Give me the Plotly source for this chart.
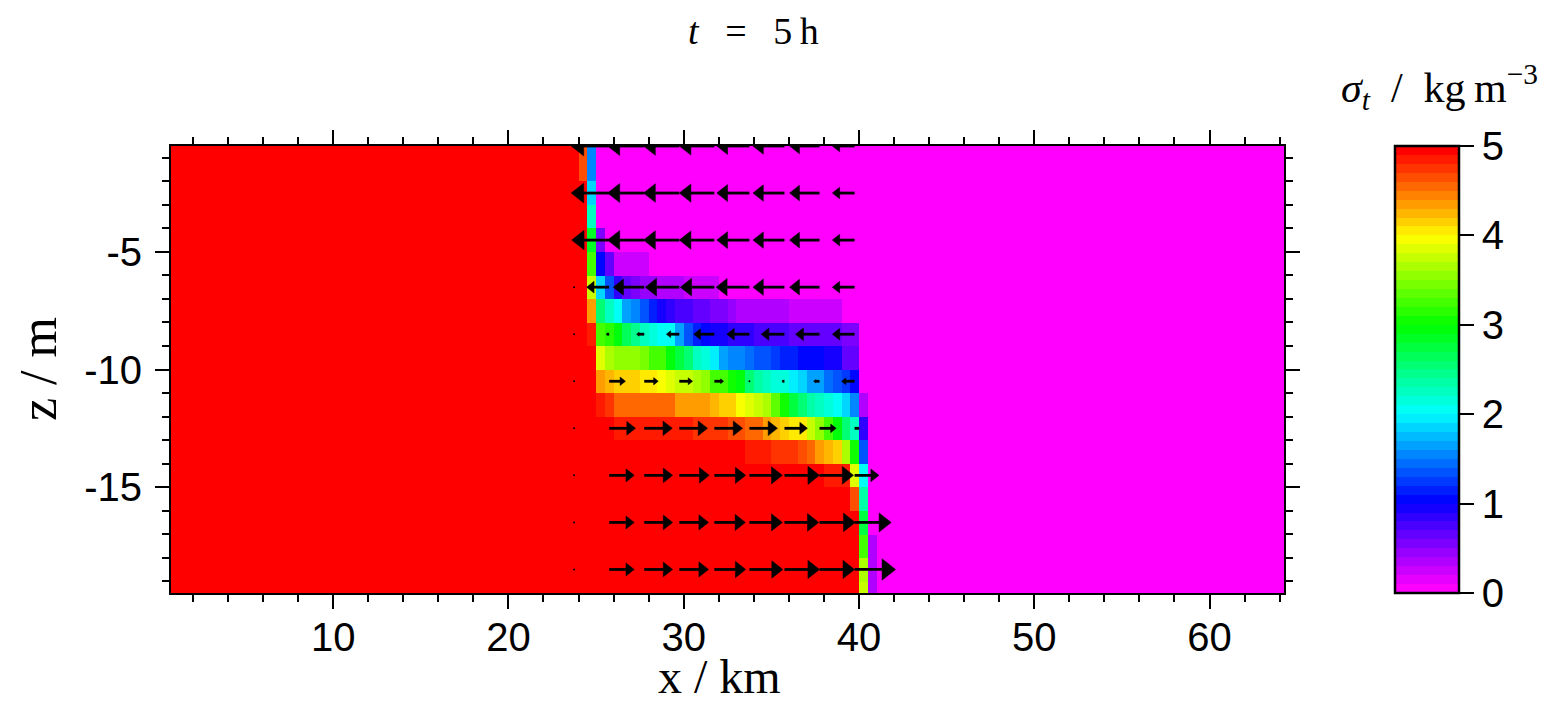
import numpy as np
import plotly.graph_objects as go

# ---------------- grid (cell centres) ----------------
x_km = np.round(np.arange(0.75, 64.251, 0.5), 3)     # 128 columns
z_m = np.array([-0.5 - k for k in range(20)])        # 20 rows: -0.5 ... -19.5

SIGMA_DENSE = 5.0     # dense water on the left
SIGMA_LIGHT = 0.0     # light water on the right
front_x0 = 24.25      # centre of first column of frontal zone

# sigma_t values in the frontal zone, one list per row (top -> bottom),
# starting at x = 24.25 km in 0.5 km steps; beyond the list: light water
sig_r00 = [4.65, 1.5]
sig_r01 = [4.65, 1.55]
sig_r02 = [5, 1.85]
sig_r03 = [5, 2.3]
sig_r04 = [5, 2.85, 0.55]
sig_r05 = [5, 3.2, 1.0, 0.7, 0.25, 0.25, 0.25, 0.25]
sig_r06 = [5, 3.75, 1.82, 1.38, 0.87, 0.69, 0.56, 0.47, 0.4, 0.37, 0.33, 0.3, 0.27, 0.25, 0.22, 0.2]
sig_r07 = [5, 4.3, 2.5, 2.25, 2.0, 1.63, 1.5, 1.3, 1.12, 0.94, 0.84, 0.78, 0.72, 0.65, 0.6, 0.5,
           0.5, 0.44, 0.37, 0.37, 0.3, 0.3, 0.3, 0.3, 0.2, 0.2, 0.2, 0.2, 0.2, 0.2, 0.05, 0.05]
sig_r08 = [5, 4.8, 3.3, 3.1, 2.9, 2.6, 2.4, 2.25, 2.1, 2.05, 2.0, 1.63, 1.3, 1.1, 1.0, 0.94,
           0.94, 0.87, 0.8, 0.8, 0.75, 0.75, 0.75, 0.75, 0.7, 0.69, 0.69, 0.65, 0.62, 0.62, 0.5, 0.5]
sig_r09 = [5, 5, 3.9, 3.6, 3.55, 3.5, 3.5, 3.44, 3.3, 3.2, 2.9, 2.75, 2.5, 2.3, 2.1, 1.9,
           1.7, 1.56, 1.5, 1.45, 1.38, 1.3, 1.25, 1.15, 1.1, 1.05, 1.0, 1.0, 0.98, 0.94, 0.7, 0.7]
sig_r10 = [5, 5, 4.37, 4.2, 4.12, 4.1, 4.1, 4.05, 4.0, 3.95, 3.9, 3.75, 3.7, 3.6, 3.5, 3.3,
           3.2, 3.05, 2.9, 2.5, 2.35, 2.2, 2.15, 2.1, 1.9, 1.8, 1.65, 1.6, 1.44, 1.3, 1.2, 1.0]
sig_r11 = [5, 5, 4.8, 4.7, 4.5, 4.5, 4.5, 4.5, 4.5, 4.5, 4.5, 4.37, 4.37, 4.3, 4.3, 4.2,
           4.1, 4.1, 3.95, 3.85, 3.75, 3.6, 3.4, 3.0, 2.75, 2.5, 2.37, 2.25, 2.1, 2.05, 1.82, 1.56, 0.37]
sig_r12 = [5, 5, 4.95, 4.95, 4.87, 4.87, 4.87, 4.87, 4.87, 4.8, 4.8, 4.8, 4.8, 4.75, 4.75, 4.7,
           4.7, 4.62, 4.62, 4.5, 4.5, 4.3, 4.25, 4.12, 4.0, 4.0, 3.75, 3.56, 3.3, 2.9, 2.5, 2.25, 0.87]
sig_r13 = [5, 5, 5, 5, 5, 5, 5, 5, 5, 5, 5, 5, 5, 5, 5, 5, 5, 5, 5,
           4.85, 4.8, 4.8, 4.75, 4.72, 4.72, 4.62, 4.5, 4.37, 4.28, 4.1, 3.6, 3.0, 1.3]
sig_r14 = [5, 5, 5, 5, 5, 5, 5, 5, 5, 5, 5, 5, 5, 5, 5, 5, 5, 5, 5, 5, 5, 5, 5, 5, 5, 5,
           4.9, 4.9, 4.87, 4.85, 4.8, 3.9, 2.0]
sig_r15 = [5, 5, 5, 5, 5, 5, 5, 5, 5, 5, 5, 5, 5, 5, 5, 5, 5, 5, 5, 5, 5, 5, 5, 5, 5, 5,
           5, 5, 5, 5, 5, 4.62, 2.37]
sig_r16 = [5, 5, 5, 5, 5, 5, 5, 5, 5, 5, 5, 5, 5, 5, 5, 5, 5, 5, 5, 5, 5, 5, 5, 5, 5, 5,
           5, 5, 5, 5, 5, 5, 2.75]
sig_r17 = [5, 5, 5, 5, 5, 5, 5, 5, 5, 5, 5, 5, 5, 5, 5, 5, 5, 5, 5, 5, 5, 5, 5, 5, 5, 5,
           5, 5, 5, 5, 5, 5, 3.25, 0.37]
sig_r18 = [5, 5, 5, 5, 5, 5, 5, 5, 5, 5, 5, 5, 5, 5, 5, 5, 5, 5, 5, 5, 5, 5, 5, 5, 5, 5,
           5, 5, 5, 5, 5, 5, 3.6, 0.37]
sig_r19 = [5, 5, 5, 5, 5, 5, 5, 5, 5, 5, 5, 5, 5, 5, 5, 5, 5, 5, 5, 5, 5, 5, 5, 5, 5, 5,
           5, 5, 5, 5, 5, 5, 3.75, 0.37]
sigma_front_rows = [sig_r00, sig_r01, sig_r02, sig_r03, sig_r04, sig_r05, sig_r06, sig_r07,
                    sig_r08, sig_r09, sig_r10, sig_r11, sig_r12, sig_r13, sig_r14, sig_r15,
                    sig_r16, sig_r17, sig_r18, sig_r19]

# ---------------- velocity arrows (u in cm/s) ----------------
arrow_x = [23.75, 25.75, 27.75, 29.75, 31.75, 33.75, 35.75, 37.75, 39.75]
arrow_z = [-0.5, -2.5, -4.5, -6.5, -8.5, -10.5, -12.5, -14.5, -16.5, -18.5]
u_z00 = [0, -21.7, -20.9, -20.4, -20.0, -18.6, -18.0, -17.1, -12.7]
u_z02 = [0, -21.7, -20.9, -20.4, -20.0, -18.6, -18.0, -17.1, -12.7]
u_z04 = [0, -21.4, -20.9, -20.4, -20.0, -18.6, -18.0, -17.1, -12.7]
u_z06 = [0, -12.9, -17.7, -19.4, -19.4, -19.0, -18.0, -17.1, -12.7]
u_z08 = [0, -1.7, -4.4, -7.4, -11.8, -12.9, -13.3, -13.7, -12.7]
u_z10 = [0, 9.3, 8.0, 7.6, 5.3, 0.3, -1.5, -3.4, -7.4]
u_z12 = [0, 15.0, 16.0, 16.1, 16.1, 16.0, 13.1, 9.5, 2.9]
u_z14 = [0, 14.3, 16.2, 17.1, 17.9, 18.8, 20.0, 19.4, 13.9]
u_z16 = [0, 14.3, 16.2, 16.7, 17.7, 18.8, 19.6, 20.4, 20.9]
u_z18 = [0, 14.3, 16.2, 16.7, 17.9, 19.1, 20.0, 20.0, 23.4]
u_rows = [u_z00, u_z02, u_z04, u_z06, u_z08, u_z10, u_z12, u_z14, u_z16, u_z18]
ARROW_SCALE = 0.1   # km of arrow per cm/s

# axis ticks
x_tickvals = [10, 20, 30, 40, 50, 60]
x_ticktext = ["10", "20", "30", "40", "50", "60"]
z_tickvals = [-5, -10, -15]
z_ticktext = ["-5", "-10", "-15"]
cb_tickvals = [0, 1, 2, 3, 4, 5]

# ---------------- build field ----------------
sigma = np.full((len(z_m), len(x_km)), SIGMA_LIGHT)
sigma[:, x_km < front_x0] = SIGMA_DENSE
j0 = int(np.argmin(np.abs(x_km - front_x0)))
for i, row in enumerate(sigma_front_rows):
    sigma[i, j0:j0 + len(row)] = row

# ---------------- colormap (50 discrete levels) ----------------
def cmap(v):
    if v <= 1:
        r, g, b = 1 - v, 0, 1
    elif v <= 2:
        r, g, b = 0, v - 1, 1
    elif v <= 3:
        r, g, b = 0, 1, 3 - v
    elif v <= 4:
        r, g, b = v - 3, 1, 0
    else:
        r, g, b = 1, 5 - v, 0
    return "rgb(%d,%d,%d)" % (round(255 * r), round(255 * g), round(255 * b))

NLEV = 50
colorscale = []
for i in range(NLEV):
    c = cmap(5.0 * i / (NLEV - 1))
    colorscale.append([i / NLEV, c])
    colorscale.append([(i + 1) / NLEV, c])

# ---------------- layout geometry ----------------
OFF = 8                      # page margin of the browser body
W, H = 1548 - OFF, 703 - OFF
ML, MT = 171 - OFF, 146 - OFF
PW, PH = 1113, 447
MR, MB = W - ML - PW, H - MT - PH
X0, X1 = 0.75, 64.25
Z0, Z1 = -19.5, -0.5
px_per_km = PW / (X1 - X0)
px_per_m = PH / (Z1 - Z0)

def px(p):   # screen x -> paper
    return (p - OFF - ML) / PW

def py(p):   # screen y -> paper
    return (MT + PH - (p - OFF)) / PH

fig = go.Figure()
fig.add_trace(go.Heatmap(
    x=x_km, y=z_m, z=sigma, zmin=0, zmax=5, colorscale=colorscale, zsmooth=False,
    hoverinfo="skip",
    colorbar=dict(
        x=px(1395), xanchor="left", xpad=0, xref="paper",
        y=0.5, yanchor="middle", len=1, lenmode="fraction", ypad=0,
        thickness=64, outlinewidth=2.5, outlinecolor="black",
        tickmode="array", tickvals=cb_tickvals,
        ticks="outside", ticklen=14, tickwidth=2, tickcolor="black",
        tickfont=dict(family="Liberation Sans, Arial", size=40, color="black"),
    ),
))

# ---------------- arrows ----------------
lx, ly, hx, hy, dx, dy = [], [], [], [], [], []
for i, z in enumerate(arrow_z):
    for j, x0 in enumerate(arrow_x):
        L = u_rows[i][j] * ARROW_SCALE
        Lpx = abs(L) * px_per_km
        if Lpx < 2:
            dx.append(x0); dy.append(z)
            continue
        s = 1 if L > 0 else -1
        hl = 0.33 * Lpx / px_per_km
        hw = 0.26 * Lpx / px_per_m
        tip = x0 + L
        base = tip - s * hl
        lx += [x0, base + s * 0.3 * hl, None]
        ly += [z, z, None]
        hx += [tip, base, base, tip, None]
        hy += [z, z + hw, z - hw, z, None]

fig.add_trace(go.Scatter(x=lx, y=ly, mode="lines", line=dict(color="black", width=2.8),
                         hoverinfo="skip", showlegend=False))
fig.add_trace(go.Scatter(x=hx, y=hy, mode="lines", fill="toself", fillcolor="black",
                         line=dict(color="black", width=0.5), hoverinfo="skip", showlegend=False))
fig.add_trace(go.Scatter(x=dx, y=dy, mode="markers", marker=dict(color="black", size=2),
                         hoverinfo="skip", showlegend=False, cliponaxis=True))

axis_common = dict(
    showgrid=False, zeroline=False, showline=True, linewidth=2, linecolor="black",
    mirror="allticks", ticks="outside", ticklen=14, tickwidth=2, tickcolor="black",
    tickfont=dict(family="Liberation Sans, Arial", size=40, color="black"),
    tickmode="array",
)
fig.update_xaxes(range=[X0, X1], tickvals=x_tickvals, ticktext=x_ticktext,
                 ticklabelstandoff=-6,
                 minor=dict(tickmode="linear", tick0=0, dtick=2, ticks="outside", ticklen=7,
                            tickwidth=1.5, tickcolor="black", showgrid=False),
                 **axis_common)
fig.update_yaxes(range=[Z0, Z1], tickvals=z_tickvals, ticktext=z_ticktext,
                 ticklabelstandoff=5,
                 minor=dict(tickmode="linear", tick0=0, dtick=1, ticks="outside", ticklen=7,
                            tickwidth=1.5, tickcolor="black", showgrid=False),
                 **axis_common)

serif = "Liberation Serif, Times New Roman, serif"
fig.update_layout(
    width=W, height=H, margin=dict(l=ML, r=MR, t=MT, b=MB, autoexpand=False),
    plot_bgcolor="white", paper_bgcolor="white", showlegend=False,
    annotations=[
        dict(text="<i>t</i>\u2002\u2009=\u2002\u20095\u2009h", x=px(753), y=py(31),
             xref="paper", yref="paper", xanchor="center", yanchor="middle", showarrow=False,
             font=dict(family=serif, size=38, color="black")),
        dict(text="x / km", x=px(719), y=py(676), xref="paper", yref="paper",
             xanchor="center", yanchor="middle", showarrow=False,
             font=dict(family=serif, size=48, color="black")),
        dict(text="z / m", x=px(38), y=py(369), xref="paper", yref="paper", textangle=-90,
             xanchor="center", yanchor="middle", showarrow=False,
             font=dict(family=serif, size=52, color="black")),
        dict(text="<i>σ</i><sub><i>t</i></sub>\u00a0\u00a0/\u00a0\u00a0kg\u2009m<sup>−3</sup>",
             x=px(1540), y=py(87), xref="paper", yref="paper", xanchor="right",
             yanchor="middle", showarrow=False,
             font=dict(family=serif, size=42, color="black")),
    ],
)

fig.write_html("out.html")
